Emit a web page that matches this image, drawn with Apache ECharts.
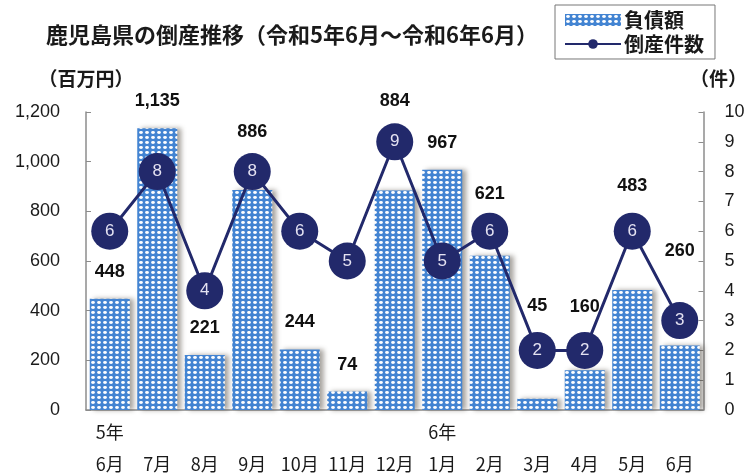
<!DOCTYPE html>
<html>
<head>
<meta charset="utf-8">
<script src="https://cdn.jsdelivr.net/npm/echarts@6/dist/echarts.min.js"></script>
<style>
html, body { margin: 0; padding: 0; background: #fff; }
#chart { width: 750px; height: 476px; }
</style>
</head>
<body>
<div id="chart"></div>
<script>
// 鹿児島県の倒産推移
const months = ['6月', '7月', '8月', '9月', '10月', '11月', '12月', '1月', '2月', '3月', '4月', '5月', '6月']
const years = ['5年', '', '', '', '', '', '', '6年', '', '', '', '', '']
const debt = [448, 1135, 221, 886, 244, 74, 884, 967, 621, 45, 160, 483, 260]   // 負債額（百万円）
const cases = [6, 8, 4, 8, 6, 5, 9, 5, 6, 2, 2, 6, 3]                             // 倒産件数（件）

// extra lift of the value labels (px), to keep them off the circles
const labelLift = [0, 0, 0, -31, 0, 0, -62, 0, -35, -66, -36, -77, -67]

const jp = '"Noto Sans CJK JP", sans-serif'
const num = '"Liberation Sans", Arial, sans-serif'

// dotted fill of the bars
function dotPattern() {
    const c = document.createElement('canvas')
    c.width = 6
    c.height = 5
    const ctx = c.getContext('2d')
    ctx.fillStyle = '#4384d2'
    ctx.fillRect(0, 0, 6, 5)
    ctx.fillStyle = '#ffffff'
    ctx.beginPath()
    ctx.ellipse(3, 2.5, 1.9, 1.4, 0, 0, Math.PI * 2)
    ctx.fill()
    return c
}

const myChart = echarts.init(document.getElementById('chart'))
const pattern = { image: dotPattern(), repeat: 'repeat' }
const axisGray = '#8c8c8c'

const option = {
    backgroundColor: '#FFFFFF',
    animation: false,
    title: {
        text: '鹿児島県の倒産推移（令和5年6月～令和6年6月）',
        left: 46,
        top: 24,
        padding: 0,
        textStyle: {
            fontFamily: jp,
            fontSize: 22,
            fontWeight: 'bold',
            color: '#1a1a1a'
        }
    },
    legend: {
        orient: 'vertical',
        left: 555,
        top: 5,
        padding: [5, 11, 5, 9],
        itemGap: 4,
        itemWidth: 56,
        itemHeight: 12,
        borderColor: '#777',
        borderWidth: 1,
        data: [
            { name: '負債額', icon: 'rect', itemStyle: { color: pattern } },
            { name: '倒産件数' }
        ],
        textStyle: {
            fontFamily: jp,
            fontSize: 20,
            fontWeight: 'bold',
            color: '#1a1a1a',
            padding: [0, 0, 0, -2]
        }
    },
    grid: {
        left: 86,
        right: 39,
        top: 112,
        bottom: 66
    },
    xAxis: {
        type: 'category',
        data: months,
        axisLine: {
            lineStyle: { color: axisGray, width: 1.5 }
        },
        axisTick: {
            inside: true,
            length: 5,
            lineStyle: { color: axisGray }
        },
        axisLabel: {
            interval: 0,
            margin: 6,
            formatter: function(value, index) {
                return '{y|' + (years[index] || ' ') + '}\n{m|' + value + '}'
            },
            rich: {
                y: { fontFamily: jp, fontSize: 18, color: '#1a1a1a', lineHeight: 32 },
                m: { fontFamily: jp, fontSize: 18, color: '#1a1a1a', lineHeight: 32 }
            }
        }
    },
    yAxis: [
        {
            type: 'value',
            min: 0,
            max: 1200,
            interval: 200,
            name: '（百万円）',
            nameLocation: 'end',
            nameGap: 24,
            nameTextStyle: {
                fontFamily: jp,
                fontSize: 19,
                fontWeight: 'bold',
                color: '#1a1a1a'
            },
            axisLine: {
                show: true,
                lineStyle: { color: axisGray, width: 1.5 }
            },
            axisTick: {
                show: true,
                inside: true,
                length: 5,
                lineStyle: { color: axisGray }
            },
            splitLine: { show: false },
            axisLabel: {
                margin: 26,
                fontFamily: num,
                fontSize: 18,
                color: '#1a1a1a',
                formatter: function(v) {
                    return v.toLocaleString('en-US')
                }
            }
        },
        {
            type: 'value',
            min: 0,
            max: 10,
            interval: 1,
            position: 'right',
            name: '（件）',
            nameLocation: 'end',
            nameGap: 24,
            nameTextStyle: {
                fontFamily: jp,
                fontSize: 19,
                fontWeight: 'bold',
                color: '#1a1a1a',
                padding: [0, 0, 0, 30]
            },
            axisLine: {
                show: true,
                lineStyle: { color: axisGray, width: 1.5 }
            },
            axisTick: {
                show: true,
                inside: true,
                length: 5,
                lineStyle: { color: axisGray }
            },
            splitLine: { show: false },
            axisLabel: {
                margin: 21,
                fontFamily: num,
                fontSize: 18,
                color: '#1a1a1a'
            }
        }
    ],
    series: [
        {
            name: '負債額',
            type: 'bar',
            yAxisIndex: 0,
            barWidth: 40,
            data: debt.map((v, i) => ({
                value: v,
                label: { offset: [0, labelLift[i]] }
            })),
            itemStyle: {
                color: pattern,
                shadowColor: 'rgba(60, 50, 40, 0.45)',
                shadowBlur: 5,
                shadowOffsetX: 4,
                shadowOffsetY: 0
            },
            label: {
                show: true,
                position: 'top',
                distance: 18,
                fontFamily: num,
                fontSize: 18,
                fontWeight: 'bold',
                color: '#111',
                formatter: function(p) {
                    return p.value.toLocaleString('en-US')
                }
            },
            z: 2
        },
        {
            name: '倒産件数',
            type: 'line',
            yAxisIndex: 1,
            data: cases,
            symbol: 'circle',
            symbolSize: 37,
            lineStyle: { color: '#22296b', width: 3 },
            itemStyle: { color: '#22296b' },
            label: {
                show: true,
                position: 'inside',
                fontFamily: num,
                fontSize: 17,
                color: '#e4e2f2'
            },
            z: 5
        }
    ]
}
myChart.setOption(option)
window.addEventListener('resize', function() {
    myChart.resize()
})
</script>
</body>
</html>
